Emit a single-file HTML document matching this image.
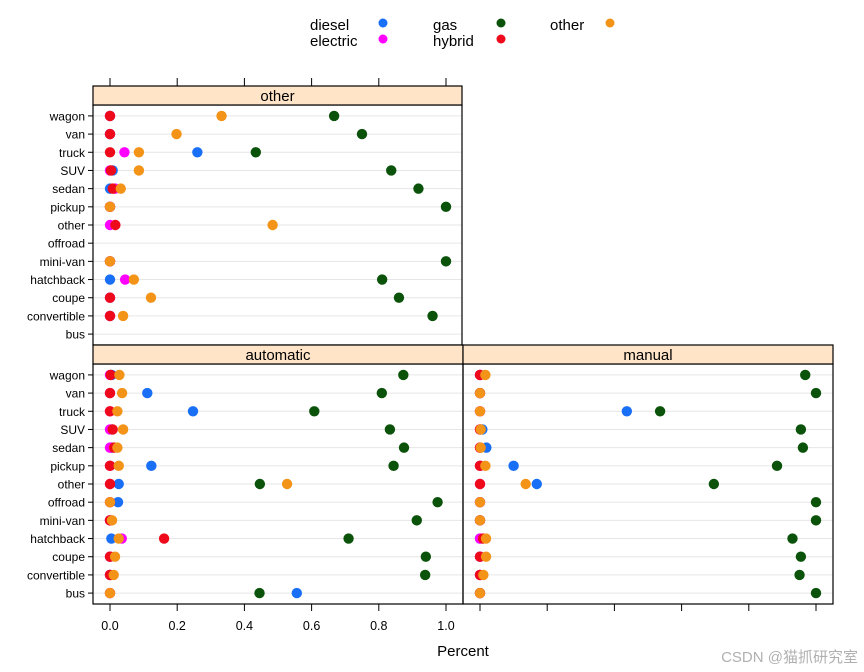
<!DOCTYPE html>
<html><head><meta charset="utf-8"><style>
html,body{margin:0;padding:0;background:#fff;}
svg{display:block;font-family:"Liberation Sans","Noto Sans CJK SC",sans-serif;}
</style></head><body>
<svg id="chart" width="864" height="672" viewBox="0 0 864 672"></svg>
<script>
const categories=["wagon","van","truck","SUV","sedan","pickup","other","offroad","mini-van","hatchback","coupe","convertible","bus"];
const fuels=["diesel","electric","gas","hybrid","other"];
const colors=["#1a6ff7","#ff00ff","#0b530b","#ee0a1a","#f39419"];
const xTicks=[0,0.2,0.4,0.6,0.8,1.0];
const xTickLabels=["0.0","0.2","0.4","0.6","0.8","1.0"];
const N=null;
// values per category: [diesel, electric, gas, hybrid, other]
const otherPanel=[
[0,0,0.667,0,0.332],
[0,0,0.75,0,0.198],
[0.26,0.043,0.434,0,0.086],
[0.008,0,0.837,0.003,0.086],
[0,0.015,0.918,0.008,0.032],
[0,0,1.0,0,0],
[N,0,N,0.016,0.484],
[N,N,N,N,N],
[0,0,1.0,0,0],
[0,0.045,0.81,N,0.071],
[0,0,0.86,0,0.122],
[0,0,0.96,0,0.039],
[N,N,N,N,N]];
const automaticPanel=[
[0.005,0,0.873,0.002,0.028],
[0.111,0,0.809,0,0.036],
[0.247,0,0.608,0,0.022],
[0.006,0,0.833,0.008,0.039],
[0.004,0,0.875,0.012,0.022],
[0.123,0,0.844,0,0.026],
[0.026,0,0.446,0,0.527],
[0.024,0,0.975,0,0],
[0,0,0.913,0,0.006],
[0.004,0.035,0.71,0.161,0.026],
[0,0,0.94,0,0.015],
[0,0,0.938,0,0.011],
[0.556,0,0.445,0,0]];
const manualPanel=[
[0,0,0.968,0,0.016],
[0,0,1.0,0,0],
[0.437,0,0.536,0,0],
[0.007,0,0.955,0,0.002],
[0.019,0,0.961,0,0.002],
[0.1,0,0.884,0,0.016],
[0.169,0,0.696,0,0.136],
[0,0,1.0,0,0],
[0,0,1.0,0,0],
[0,0,0.93,0.009,0.018],
[0,0,0.955,0,0.018],
[0,0,0.951,0,0.01],
[0,0,1.0,0,0]];

const svg=document.getElementById('chart');
const NS="http://www.w3.org/2000/svg";
function el(tag,attrs,parent){const e=document.createElementNS(NS,tag);for(const k in attrs)e.setAttribute(k,attrs[k]);(parent||svg).appendChild(e);return e;}

function drawPanel(name,title,data,x0,x1,top,bottom,opts){
  const g=el('g',{});
  
  
  const stripH=19;
  const pTop=top+stripH, pBot=bottom;
  const zero=x0+17, one=zero+336;
  const xs=v=>zero+(one-zero)*v;
  const step=(pBot-pTop)/13.2;
  const ys=i=>pTop+(0.6+i)*step;
  for(let i=0;i<categories.length;i++){
    const l=el('line',{x1:x0,x2:x1,y1:ys(i),y2:ys(i),stroke:'#e6e6e6','stroke-width':1},g);
    
    
  }
  for(let i=0;i<data.length;i++){
    for(let f=0;f<fuels.length;f++){
      const v=data[i][f];
      if(v===null)continue;
      const c=el('circle',{cx:xs(v),cy:ys(i),r:5.2,fill:colors[f]},g);
      
      
    }
  }
  const fr=el('rect',{x:x0,y:pTop,width:x1-x0,height:pBot-pTop,fill:'none',stroke:'#000','stroke-width':1.2},g);
  
  
  const st=el('rect',{x:x0,y:top,width:x1-x0,height:stripH,fill:'#ffe4c8',stroke:'#000','stroke-width':1.2},g);
  
  
  const stt=el('text',{x:(x0+x1)/2,y:top+15,'text-anchor':'middle','font-size':15,fill:'#000'},g);
  stt.textContent=title;
  
  
  if(opts.yLabels){
    for(let i=0;i<categories.length;i++){
      el('line',{x1:x0-5,x2:x0,y1:ys(i),y2:ys(i),stroke:'#000'},g);
      const t=el('text',{x:x0-8,y:ys(i)+4.5,'text-anchor':'end','font-size':12,fill:'#000'},g);
      t.textContent=categories[i];
      
      
    }
  }
  if(opts.topTicks){
    xTicks.forEach(v=>el('line',{x1:xs(v),x2:xs(v),y1:top-8,y2:top,stroke:'#000'},g));
  }
  if(opts.bottomTicks){
    xTicks.forEach((v,k)=>{
      el('line',{x1:xs(v),x2:xs(v),y1:pBot,y2:pBot+7,stroke:'#000'},g);
      if(opts.bottomLabels){
        const t=el('text',{x:xs(v),y:pBot+26,'text-anchor':'middle','font-size':12.5,fill:'#000'},g);
        t.textContent=xTickLabels[k];
        
        
      }
    });
  }
}
drawPanel('other','other',otherPanel,93,462,86,345,{yLabels:true,topTicks:true});
drawPanel('automatic','automatic',automaticPanel,93,463,345,604,{yLabels:true,bottomTicks:true,bottomLabels:true});
drawPanel('manual','manual',manualPanel,463,833,345,604,{bottomTicks:true});

const xt=el('text',{x:463,y:656,'text-anchor':'middle','font-size':15,fill:'#000'});
xt.textContent='Percent';



const legendPos=[[310,30,383,23],[310,46,383,39],[433,30,501,23],[433,46,501,39],[550,30,610,23]];
fuels.forEach((f,k)=>{
  const p=legendPos[k];
  const g=el('g',{});
  
  
  const t=el('text',{x:p[0],y:p[1],'font-size':15,fill:'#000'},g);
  t.textContent=f;
  el('circle',{cx:p[2],cy:p[3],r:4.5,fill:colors[k]},g);
});
const wm=el('text',{x:858,y:662,'text-anchor':'end','font-size':15,fill:'#b0b0b0'});
wm.textContent='CSDN @猫抓研究室';


</script>
</body></html>
